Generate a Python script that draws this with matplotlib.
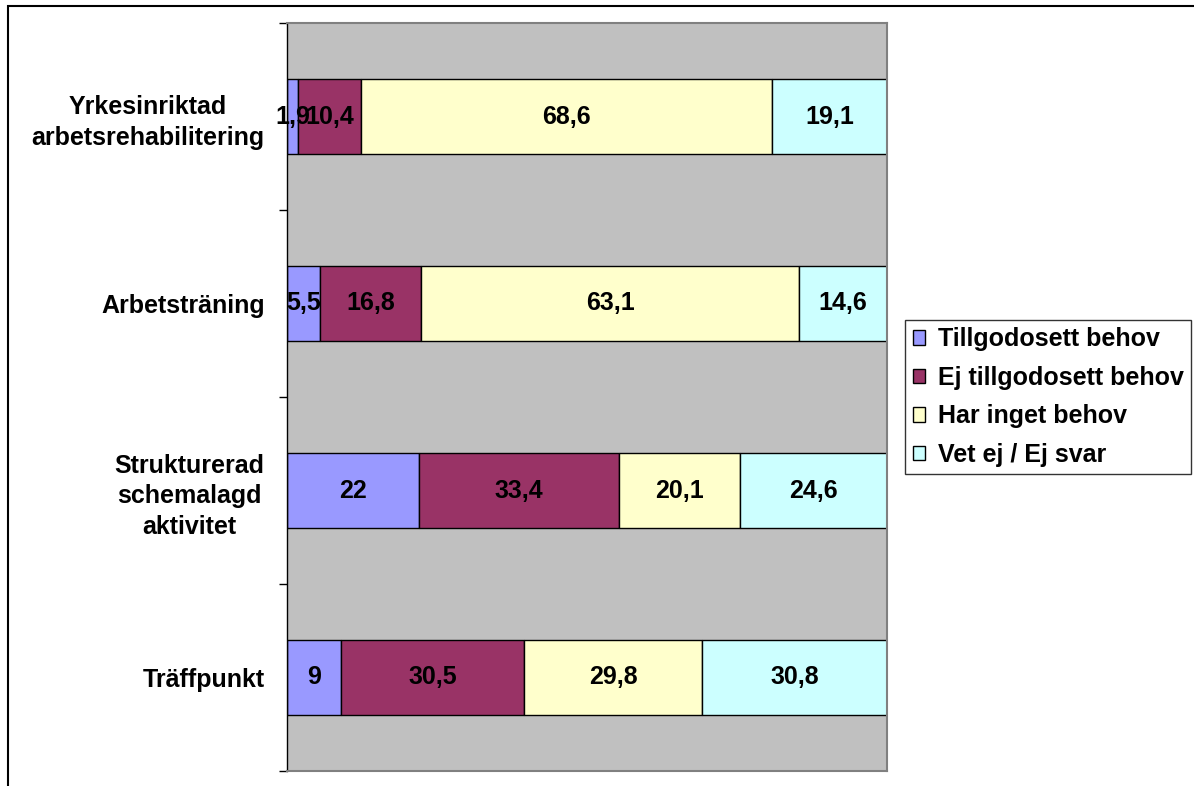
"""Stacked horizontal bar chart of met and unmet needs per activity type."""

import matplotlib

matplotlib.use("Agg")

import matplotlib.pyplot as plt
import numpy as np
from matplotlib.patches import Rectangle
from matplotlib.ticker import FixedLocator

categories = [
    "Yrkesinriktad\narbetsrehabilitering",
    "Arbetsträning",
    "Strukturerad\nschemalagd\naktivitet",
    "Träffpunkt",
]
series_names = [
    "Tillgodosett behov",
    "Ej tillgodosett behov",
    "Har inget behov",
    "Vet ej / Ej svar",
]
tillgodosett = [1.9, 5.5, 22, 9]
ej_tillgodosett = [10.4, 16.8, 33.4, 30.5]
inget_behov = [68.6, 63.1, 20.1, 29.8]
vet_ej = [19.1, 14.6, 24.6, 30.8]

colors = ["#9999FF", "#993366", "#FFFFCC", "#CCFFFF"]

plt.rcParams["font.family"] = ["Liberation Sans", "DejaVu Sans"]
plt.rcParams["font.weight"] = "bold"

FS = 18


def fmt(v):
    """Swedish decimal comma, no trailing ,0."""
    if float(v).is_integer():
        return str(int(v))
    return f"{v:.1f}".replace(".", ",")


values = np.array([tillgodosett, ej_tillgodosett, inget_behov, vet_ej], dtype=float)
totals = values.sum(axis=0)
shares = values / totals * 100.0

fig = plt.figure(figsize=(11.94, 7.86), dpi=100)
ax = fig.add_axes([287 / 1194, 1 - 771 / 786, 600 / 1194, 748 / 786])
ax.set_facecolor("#C0C0C0")

y = np.arange(len(categories))
left = np.zeros(len(categories))
for i, name in enumerate(series_names):
    ax.barh(y, shares[i], left=left, height=0.4, color=colors[i],
            edgecolor="black", linewidth=1.0, label=name, zorder=2)
    for j in range(len(categories)):
        ax.text(left[j] + shares[i][j] / 2, y[j], fmt(values[i][j]),
                ha="center", va="center", fontsize=FS, fontweight="bold",
                color="black", zorder=3)
    left += shares[i]

ax.set_xlim(0, 100)
ax.set_ylim(len(categories) - 0.5, -0.5)
ax.set_xticks([])
ax.set_yticks(y)
ax.set_yticklabels(categories, fontsize=FS, fontweight="bold",
                   multialignment="center", linespacing=1.35)
ax.yaxis.set_minor_locator(FixedLocator(np.arange(-0.5, len(categories), 1.0)))
ax.tick_params(axis="y", which="major", length=0, pad=16)
ax.tick_params(axis="y", which="minor", length=6, width=1.0, color="black")

for side in ("top", "right", "bottom"):
    ax.spines[side].set_color("#808080")
    ax.spines[side].set_linewidth(1.5)
ax.spines["left"].set_color("black")
ax.spines["left"].set_linewidth(1.0)

leg = fig.legend(loc="center left", bbox_to_anchor=(905 / 1194, 1 - 397 / 786),
                 frameon=True, fancybox=False, edgecolor="black",
                 prop={"size": FS, "weight": "bold"},
                 handlelength=0.5, handleheight=0.5, handletextpad=0.5,
                 labelspacing=0.58, borderpad=0.3, borderaxespad=0)
leg.get_frame().set_linewidth(1.0)

# outer chart border, open at the right and bottom edges
fig.patches.append(Rectangle((8 / 1194, -0.1), 1.2, 1.1 - 6 / 786,
                             transform=fig.transFigure, fill=False,
                             edgecolor="black", linewidth=1.5))

fig.savefig("out.png", dpi=100)
plt.close(fig)
